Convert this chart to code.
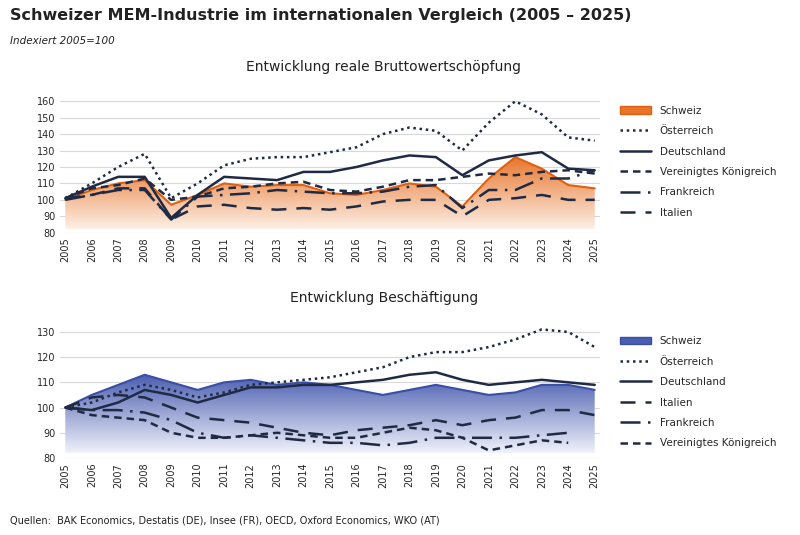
import numpy as np, pandas as pd, matplotlib
matplotlib.use("Agg")
import matplotlib.pyplot as plt, seaborn as sns
from matplotlib.colors import LinearSegmentedColormap
from matplotlib.patches import Patch
from matplotlib.lines import Line2D

years = list(range(2005, 2026))
# Bruttowertschöpfung
w_ch = [100,106,110,112,97,103,110,108,109,109,104,103,106,110,108,96,113,126,119,109,107]
w_at = [101,110,120,128,101,110,121,125,126,126,129,132,140,144,142,130,147,160,152,138,136]
w_de = [101,108,114,114,89,103,114,113,112,117,117,120,124,127,126,115,124,127,129,119,118]
w_uk = [101,107,109,113,100,102,107,108,110,111,106,105,108,112,112,114,116,115,117,118,116]
w_fr = [100,103,106,106,88,102,103,104,106,105,104,104,105,108,109,95,106,106,113,113,118]
w_it = [101,103,107,107,88,96,97,95,94,95,94,96,99,100,100,90,100,101,103,100,100]
# Beschäftigung
b_ch = [100,105,109,113,110,107,110,111,109,110,109,107,105,107,109,107,105,106,109,109,107]
b_at = [100,102,106,109,107,104,106,109,110,111,112,114,116,120,122,122,124,127,131,130,124]
b_de = [100,99,102,107,105,102,105,108,108,109,109,110,111,113,114,111,109,110,111,110,109]
b_it = [100,104,105,104,100,96,95,94,92,90,89,91,92,93,95,93,95,96,99,99,97]
b_fr = [100,99,99,98,95,90,88,89,88,87,86,86,85,86,88,88,88,88,89,90,np.nan]
b_uk = [100,97,96,95,90,88,88,89,90,89,88,88,90,92,91,88,83,85,87,86,np.nan]

navy = "#1f2a44"
sty = {"Österreich": (0,(1,1.5)), "Deutschland": "-", "Vereinigtes Königreich": (0,(3,2)),
       "Frankreich": (0,(8,3,1,3)), "Italien": (0,(6,4))}

fig = plt.figure(figsize=(8,5.35), dpi=100)
fig.text(0.012,0.963,"Schweizer MEM-Industrie im internationalen Vergleich (2005 – 2025)",fontsize=11.5,fontweight="bold",color="#222")
fig.text(0.012,0.918,"Indexiert 2005=100",fontsize=7.5,style="italic",color="#222")
fig.text(0.012,0.022,"Quellen:  BAK Economics, Destatis (DE), Insee (FR), OECD, Oxford Economics, WKO (AT)",fontsize=7,color="#222")

def panel(rect, title, ch, series, ylim, yticks, c_top, c_bot, edge, order):
    ax = fig.add_axes(rect)
    ax.set_xlim(2004.8, 2025.2); ax.set_ylim(*ylim)
    x = np.array(years, float); y = np.array(ch, float)
    cmap = LinearSegmentedColormap.from_list("g",[c_bot,c_top])
    grad = np.linspace(0,1,256).reshape(-1,1)
    im = ax.imshow(grad, extent=[2005,2025,ylim[0]+2,max(ch)], origin="lower", aspect="auto", cmap=cmap, zorder=1)
    poly = ax.fill_between(x, ylim[0]+2, y, color="none")
    im.set_clip_path(poly.get_paths()[0], transform=ax.transData)
    ax.plot(x, y, color=edge, lw=1.5, zorder=2)
    for name, vals in series:
        d = pd.DataFrame({"year": years, "v": vals})
        sns.lineplot(data=d, x="year", y="v", ax=ax, color=navy, lw=1.8, linestyle=sty[name], zorder=3)
    ax.set_xticks(years); ax.set_xticklabels([str(v) for v in years], rotation=90, fontsize=7)
    ax.set_yticks(yticks); ax.tick_params(axis="y", labelsize=7, length=0); ax.tick_params(axis="x", length=0)
    ax.set_xlabel(""); ax.set_ylabel("")
    ax.grid(axis="y", color="#d9d9d9", lw=0.8); ax.grid(axis="x", visible=False)
    for s in ax.spines.values(): s.set_visible(False)
    ax.set_title(title, fontsize=10, color="#222", pad=18, x=0.6)
    handles = [Patch(facecolor=c_top, edgecolor=edge, label="Schweiz")]
    for n in order:
        handles.append(Line2D([],[],color=navy,lw=1.8,linestyle=sty[n],label=n))
    ax.legend(handles=handles, loc="upper left", bbox_to_anchor=(1.02,1.0), frameon=False, fontsize=7.5, labelspacing=1.0, handlelength=3)
    return ax

sns.set_style("white")
panel([0.075,0.565,0.675,0.255], "Entwicklung reale Bruttowertschöpfung", w_ch,
      [("Österreich",w_at),("Deutschland",w_de),("Vereinigtes Königreich",w_uk),("Frankreich",w_fr),("Italien",w_it)],
      (80,163), [80,90,100,110,120,130,140,150,160], "#e8742a", "#fdf0e6", "#e06010",
      ["Österreich","Deutschland","Vereinigtes Königreich","Frankreich","Italien"])
panel([0.075,0.144,0.675,0.245], "Entwicklung Beschäftigung", b_ch,
      [("Österreich",b_at),("Deutschland",b_de),("Italien",b_it),("Frankreich",b_fr),("Vereinigtes Königreich",b_uk)],
      (80,132), [80,90,100,110,120,130], "#4a5db0", "#f0f2fa", "#3a4ea5",
      ["Österreich","Deutschland","Italien","Frankreich","Vereinigtes Königreich"])
fig.savefig("out.png", dpi=100)
